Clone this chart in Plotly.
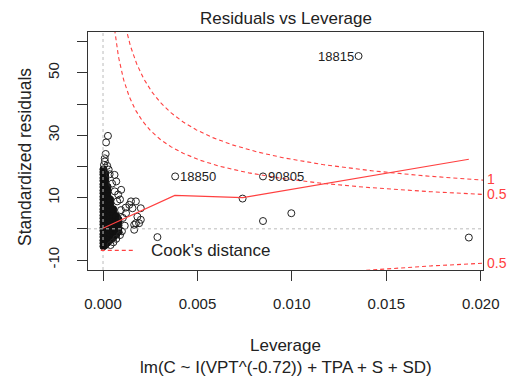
import numpy as np
import plotly.graph_objects as go

# ---------------- data ----------------
# labelled / isolated observations (leverage, standardized residual)
iso_lev = [0.01353, 0.00382, 0.00847, 0.00739, 0.00847, 0.00997, 0.00288, 0.01937]
iso_res = [55.4, 16.8, 16.8, 9.7, 2.5, 5.0, -2.66, -2.8]
iso_ids = ["18815", "18850", "90805", "", "", "", "", ""]

# open circles around the dense cloud near zero leverage
edge_lev = [0.00005, 0.00010, 0.00009, 0.00014, 0.00016, 0.00026, 0.00022, 0.00030, 0.00035,
            0.00061, 0.00070, 0.00096, 0.00048, 0.00080, 0.00062, 0.00090, 0.00075,
            0.00148, 0.00156, 0.00200, 0.00182, 0.00191, 0.00165, 0.00200, 0.00122,
            0.00139, 0.00174, 0.00174, 0.00165, 0.00105, 0.00115, 0.00100, 0.00090,
            0.00070, 0.00055, 0.00040, 0.00120, 0.00095]
edge_res = [20.5, 21.6, 22.6, 24.0, 27.7, 29.8, 20.2, 19.0, 17.5,
            17.3, 15.2, 12.5, 14.5, 11.0, 12.0, 9.4, 8.8,
            8.8, 6.6, 6.6, 3.9, 1.8, 1.3, 2.9, 5.0,
            7.7, 8.8, 1.8, -0.3, 3.5, 1.0, -0.8, -2.0,
            -3.2, -4.3, -5.2, 6.8, 6.0]

# dense (overplotted) core of the cloud, by leverage column
core_col_lev = [0.00002, 0.00012, 0.00024, 0.00038, 0.00054, 0.00070, 0.00082]
core_col_res = [
    [-5.6, -4.6, -3.7, -2.6, -1.7, -0.6, 0.3, 1.4, 2.3, 3.4, 4.3, 5.4, 6.3, 7.4, 8.3,
     9.4, 10.3, 11.4, 12.3, 13.4, 14.3, 15.4, 16.3, 17.4, 18.2, 19.1],
    [-5.2, -4.1, -3.2, -2.1, -1.2, -0.1, 0.8, 1.9, 2.8, 3.9, 4.8, 5.9, 6.8, 7.9, 8.8,
     9.9, 10.8, 11.9, 12.8, 13.9, 14.8, 15.9, 16.8, 17.7],
    [-4.4, -3.4, -2.3, -1.4, -0.3, 0.6, 1.7, 2.6, 3.7, 4.6, 5.7, 6.6, 7.7, 8.6, 9.7,
     10.6, 11.7, 12.6, 13.5],
    [-3.6, -2.5, -1.6, -0.5, 0.4, 1.5, 2.4, 3.5, 4.4, 5.5, 6.4, 7.5, 8.6, 9.4],
    [-2.8, -1.7, -0.8, 0.3, 1.2, 2.3, 3.2, 4.3, 5.2, 6.3],
    [-1.9, -0.8, 0.1, 1.2, 2.1, 3.2, 4.1],
    [-0.9, 0.2, 1.1, 2.2, 3.0],
]

# smoother (red line)
smooth_lev = [0.0, 0.0019, 0.0038, 0.0074, 0.01937]
smooth_res = [0.2, 5.5, 10.7, 10.0, 22.3]

# Cook's distance contour levels and number of model parameters
cook_levels = [0.5, 1.0]
n_params = 5

x_ticks = [0.000, 0.005, 0.010, 0.015, 0.020]
x_ticktext = ["0.000", "0.005", "0.010", "0.015", "0.020"]
y_ticks = [-10, 0, 10, 20, 30, 40, 50, 60]
y_ticktext = ["-10", "", "10", "", "30", "", "50", ""]

XR = [-0.000796, 0.02012]
YR = [-13.2, 63.1]

FONT = "Liberation Sans, Arial, Helvetica, sans-serif"
TXT = "#222222"
RED = "#ff4040"

core_lev = []
core_res = []
for lv, col in zip(core_col_lev, core_col_res):
    core_lev += [lv] * len(col)
    core_res += col

fig = go.Figure()

# dense core
fig.add_trace(go.Scatter(x=core_lev, y=core_res, mode="markers",
                         marker=dict(symbol="circle", size=7, color="#111111",
                                     line=dict(color="#111111", width=1)),
                         hoverinfo="skip"))
# open circles
fig.add_trace(go.Scatter(x=edge_lev + iso_lev, y=edge_res + iso_res, mode="markers",
                         marker=dict(symbol="circle-open", size=7, color="#222222",
                                     line=dict(width=1)),
                         hoverinfo="skip"))
# smoother
fig.add_trace(go.Scatter(x=smooth_lev, y=smooth_res, mode="lines",
                         line=dict(color=RED, width=1.2), hoverinfo="skip"))

# Cook's distance contours
hh = np.linspace(0.0001, XR[1], 600)
for lvl in cook_levels:
    cc = np.sqrt(lvl * n_params * (1 - hh) / hh)
    for sgn in (1, -1):
        fig.add_trace(go.Scatter(x=hh, y=sgn * cc, mode="lines",
                                 line=dict(color=RED, width=1.1, dash="4px,3px"),
                                 hoverinfo="skip"))

shapes = [
    dict(type="line", xref="x", yref="paper", x0=0, x1=0, y0=0, y1=1,
         line=dict(color="#bbbbbb", width=1, dash="dot"), layer="above"),
    dict(type="line", xref="paper", yref="y", x0=0, x1=1, y0=0, y1=0,
         line=dict(color="#bbbbbb", width=1, dash="dot"), layer="above"),
    # legend sample
    dict(type="line", xref="paper", yref="paper", x0=(101 - 88) / 402, x1=(134 - 88) / 402,
         y0=(270 - 250.3) / 238, y1=(270 - 250.3) / 238,
         line=dict(color=RED, width=1.2, dash="4px,3px"), layer="above"),
]

ann = []
# point labels
ann.append(dict(x=iso_lev[0], y=iso_res[0], text=iso_ids[0], xanchor="right", xshift=-3,
                showarrow=False, font=dict(size=13, color=TXT, family=FONT)))
for i in (1, 2):
    ann.append(dict(x=iso_lev[i], y=iso_res[i], text=iso_ids[i], xanchor="left", xshift=3,
                    showarrow=False, font=dict(size=13, color=TXT, family=FONT)))
# contour labels on right margin
h_end = XR[1]
for lvl in cook_levels:
    v = np.sqrt(lvl * n_params * (1 - h_end) / h_end)
    lab = "1" if lvl == 1.0 else "0.5"
    ys = [v, -v] if lvl == 0.5 else [v]
    for yv in ys:
        if YR[0] <= yv <= YR[1]:
            ann.append(dict(xref="paper", x=1, y=float(yv), text=lab, xanchor="left", xshift=3,
                            yshift=1 if lab == "1" else 0, borderpad=0,
                            showarrow=False, font=dict(size=14, color=RED, family=FONT)))
# legend text
ann.append(dict(xref="paper", yref="paper", x=(150 - 88) / 402, y=(270 - 250) / 238,
                text="Cook's distance", xanchor="left", yanchor="middle", showarrow=False,
                font=dict(size=17, color=TXT, family=FONT)))
# title & axis titles
ann.append(dict(xref="paper", yref="paper", x=0.5, y=1, yshift=14, text="Residuals vs Leverage",
                xanchor="center", yanchor="middle", showarrow=False,
                font=dict(size=17, color=TXT, family=FONT)))
ann.append(dict(xref="paper", yref="paper", x=0.5, y=0, yshift=-75.5, text="Leverage",
                xanchor="center", yanchor="middle", showarrow=False,
                font=dict(size=17, color=TXT, family=FONT)))
ann.append(dict(xref="paper", yref="paper", x=0.5, y=0, yshift=-97, text="lm(C ~ I(VPT^(-0.72)) + TPA + S + SD)",
                xanchor="center", yanchor="middle", showarrow=False,
                font=dict(size=17, color=TXT, family=FONT)))
ann.append(dict(xref="paper", yref="paper", x=0, xshift=-63, y=(270 - 157) / 238,
                text="Standardized residuals", textangle=-90,
                xanchor="center", yanchor="middle", showarrow=False,
                font=dict(size=17.5, color=TXT, family=FONT)))

fig.update_layout(
    width=511, height=379,
    margin=dict(l=88, r=21, t=32, b=109),
    paper_bgcolor="white", plot_bgcolor="white",
    showlegend=False,
    shapes=shapes, annotations=ann,
    xaxis=dict(range=XR, tickvals=x_ticks, ticktext=x_ticktext, showgrid=False, zeroline=False,
               showline=True, mirror=True, linecolor="#333333", linewidth=1,
               ticks="outside", ticklen=10, tickcolor="#333333", ticklabelstandoff=10,
               tickfont=dict(size=15, color=TXT, family=FONT)),
    yaxis=dict(range=YR, tickvals=y_ticks, ticktext=y_ticktext, showgrid=False, zeroline=False,
               showline=True, mirror=True, linecolor="#333333", linewidth=1,
               ticks="outside", ticklen=10, tickcolor="#333333", tickangle=-90,
               ticklabelstandoff=12,
               tickfont=dict(size=15, color=TXT, family=FONT)),
)

fig.write_html("out.html")
